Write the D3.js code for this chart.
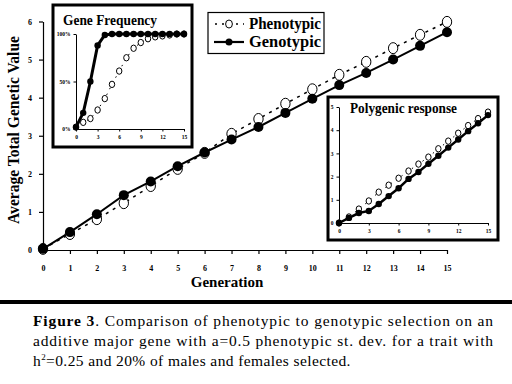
<!DOCTYPE html>
<html><head><meta charset="utf-8">
<script src="https://cdn.jsdelivr.net/npm/d3@7"></script>
<style>html,body{margin:0;padding:0;background:#fff;}svg{display:block;}</style>
</head><body>
<svg id="c" width="512" height="384"></svg>
<script>
// ---- data ----
const generations = d3.range(0, 16);
const mainGenotypic = [0.03,0.47,0.94,1.44,1.8,2.2,2.56,2.9,3.23,3.6,3.97,4.33,4.65,5.0,5.36,5.72];
const mainPhenotypic = [0.03,0.42,0.81,1.23,1.68,2.13,2.55,3.05,3.44,3.84,4.22,4.6,4.94,5.3,5.65,5.99];
const mainYTicks = [0,1,2,3,4,5,6];
const freqGenotypic = [0.02,0.17,0.5,0.88,0.99,1,1,1,1,1,1,1,1,1,1,1];
const freqPhenotypic = [0.02,0.07,0.11,0.2,0.32,0.47,0.61,0.75,0.85,0.91,0.95,0.97,0.98,0.99,1,1];
const freqYTicks = [0,0.5,1];
const freqYLabels = ["0%","50%","100%"];
const insetXTicks = [0,3,6,9,12,15];
const polyGenotypic = [0,0.22,0.43,0.52,0.82,1.16,1.5,1.9,2.2,2.55,2.9,3.25,3.6,3.96,4.3,4.65];
const polyPhenotypic = [0,0.26,0.6,0.95,1.33,1.63,1.93,2.24,2.54,2.84,3.2,3.53,3.87,4.2,4.5,4.78];
const polyYTicks = [0,1,2,3,4,5];
const legendLabels = ["Phenotypic","Genotypic"];

const svg = d3.select("#c");
const serif = "'Liberation Serif','DejaVu Serif',serif";

// ---- main chart ----
const x = d3.scaleLinear().domain([0,15]).range([43,447]);
const y = d3.scaleLinear().domain([0,6]).range([250,21.5]);

const gx = svg.append("g").attr("transform","translate(0,250)")
  .call(d3.axisBottom(x).tickValues(generations).tickFormat(d=>d).tickSize(4).tickSizeOuter(0).tickPadding(11));
const gy = svg.append("g").attr("transform","translate(43,0)")
  .call(d3.axisLeft(y).tickValues(mainYTicks).tickFormat(d=>d).tickSize(4).tickSizeOuter(0).tickPadding(7));
[gx,gy].forEach(g=>{
  g.select(".domain").attr("stroke","#000").attr("stroke-width",1.2);
  g.selectAll(".tick line").attr("stroke","#000").attr("stroke-width",1.2);
  g.selectAll(".tick text").attr("font-family",serif).attr("font-size",8).attr("font-weight","bold").attr("fill","#000");
});

function drawSeries(g, xs, ys, phen, gen, opt){
  const line = d3.line().x((d,i)=>xs(generations[i])).y(d=>ys(d));
  g.append("path").datum(phen).attr("d",line).attr("fill","none")
    .attr("stroke","#000").attr("stroke-width",opt.dashW).attr("stroke-dasharray",opt.dash);
  g.append("path").datum(gen).attr("d",line).attr("fill","none")
    .attr("stroke","#000").attr("stroke-width",opt.lineW);
  g.selectAll(".pc").data(phen).join("ellipse").attr("class","pc")
    .attr("cx",(d,i)=>xs(generations[i])).attr("cy",d=>ys(d))
    .attr("rx",opt.r*0.85).attr("ry",opt.r).attr("fill","#fff").attr("stroke","#000").attr("stroke-width",1);
  g.selectAll(".gc").data(gen).join("circle").attr("class","gc")
    .attr("cx",(d,i)=>xs(generations[i])).attr("cy",d=>ys(d))
    .attr("r",opt.fr).attr("fill","#000");
}
drawSeries(svg.append("g"), x, y, mainPhenotypic, mainGenotypic, {dashW:1.5,dash:"3,5",lineW:2,r:5.5,fr:5});

// axis titles
svg.append("text").attr("x",227).attr("y",287).attr("text-anchor","middle")
  .attr("font-family",serif).attr("font-weight","bold").attr("font-size",15).text("Generation");
svg.append("text").attr("transform","translate(19,130) rotate(-90)").attr("text-anchor","middle")
  .attr("font-family",serif).attr("font-weight","bold").attr("font-size",16)
  .attr("textLength",188).attr("lengthAdjust","spacingAndGlyphs").text("Average Total Genetic Value");

// legend
const lg = svg.append("g");
lg.append("rect").attr("x",208).attr("y",12.5).attr("width",116).attr("height",41).attr("fill","#fff").attr("stroke","#000").attr("stroke-width",1.2);
const lgY = [24,42];
lg.append("line").attr("x1",214).attr("x2",244).attr("y1",lgY[0]).attr("y2",lgY[0]).attr("stroke","#000").attr("stroke-width",1.5).attr("stroke-dasharray","2,5").attr("stroke-dashoffset",-1);
lg.append("ellipse").attr("cx",229).attr("cy",lgY[0]).attr("rx",3.4).attr("ry",4).attr("fill","#fff").attr("stroke","#000");
lg.append("line").attr("x1",214).attr("x2",244).attr("y1",lgY[1]).attr("y2",lgY[1]).attr("stroke","#000").attr("stroke-width",2.2);
lg.append("circle").attr("cx",229).attr("cy",lgY[1]).attr("r",3.5).attr("fill","#000");
lg.selectAll(".lt").data(legendLabels).join("text").attr("class","lt")
  .attr("x",249).attr("y",(d,i)=>lgY[i]+5).attr("font-family",serif).attr("font-weight","bold").attr("font-size",16)
  .attr("textLength",72).attr("lengthAdjust","spacingAndGlyphs").text(d=>d);

// ---- inset helper ----
function inset(box, xs, ys, yTicks, yFmt, phen, gen, title, tpos, opt){
  const g = svg.append("g");
  g.append("rect").attr("x",box[0]).attr("y",box[1]).attr("width",box[2]).attr("height",box[3])
    .attr("fill","#fff").attr("stroke","#000").attr("stroke-width",3);
  const ax = g.append("g").attr("transform",`translate(0,${ys.range()[0]})`)
    .call(d3.axisBottom(xs).tickValues(insetXTicks).tickFormat(d=>d).tickSize(2.5).tickSizeOuter(0).tickPadding(4));
  const ay = g.append("g").attr("transform",`translate(${xs.range()[0]},0)`)
    .call(d3.axisLeft(ys).tickValues(yTicks).tickFormat(yFmt).tickSize(2.5).tickSizeOuter(0).tickPadding(3));
  [ax,ay].forEach(a=>{
    a.select(".domain").attr("stroke","#000").attr("stroke-width",1);
    a.selectAll(".tick line").attr("stroke","#000");
    a.selectAll(".tick text").attr("font-family",serif).attr("font-size",5.5).attr("font-weight","bold").attr("fill","#000");
  });
  drawSeries(g, xs, ys, phen, gen, opt);
  g.append("text").attr("x",tpos[0]).attr("y",tpos[1]).attr("font-family",serif).attr("font-weight","bold")
    .attr("font-size",15).attr("textLength",tpos[2]).attr("lengthAdjust","spacingAndGlyphs").text(title);
}
const fx = d3.scaleLinear().domain([0,15]).range([76,184]);
const fy = d3.scaleLinear().domain([0,1]).range([129,34]);
inset([53,5,139,142], fx, fy, freqYTicks, (d,i)=>freqYLabels[i], freqPhenotypic, freqGenotypic,
  "Gene Frequency", [63,25,94], {dashW:1,dash:"1.5,5",lineW:3,r:3.2,fr:3.2});

const px = d3.scaleLinear().domain([0,15]).range([339,488]);
const py = d3.scaleLinear().domain([0,5]).range([223,107]);
inset([328,97,170,143], px, py, polyYTicks, d=>d, polyPhenotypic, polyGenotypic,
  "Polygenic response", [350,113,107], {dashW:1,dash:"1.5,5",lineW:2.5,r:3.2,fr:3.2});

// ---- separator & caption ----
svg.append("rect").attr("x",0).attr("y",300).attr("width",512).attr("height",4).attr("fill","#000");
const cap = svg.append("g").attr("font-family",serif).attr("font-size",15.5).attr("fill","#000");
const t1 = cap.append("text").attr("x",33).attr("y",326).attr("textLength",460).attr("lengthAdjust","spacing");
t1.append("tspan").attr("font-weight","bold").text("Figure 3");
t1.append("tspan").text(". Comparison of phenotypic to genotypic selection on an");
cap.append("text").attr("x",33).attr("y",346).attr("textLength",460).attr("lengthAdjust","spacing")
  .text("additive major gene with a=0.5 phenotypic st. dev. for a trait with");
const t3 = cap.append("text").attr("x",33).attr("y",366).attr("letter-spacing",0.4);
t3.append("tspan").text("h");
t3.append("tspan").attr("font-size",9).attr("dy",-6).text("2");
t3.append("tspan").attr("dy",6).text("=0.25 and 20% of males and females selected.");
</script>
</body></html>
